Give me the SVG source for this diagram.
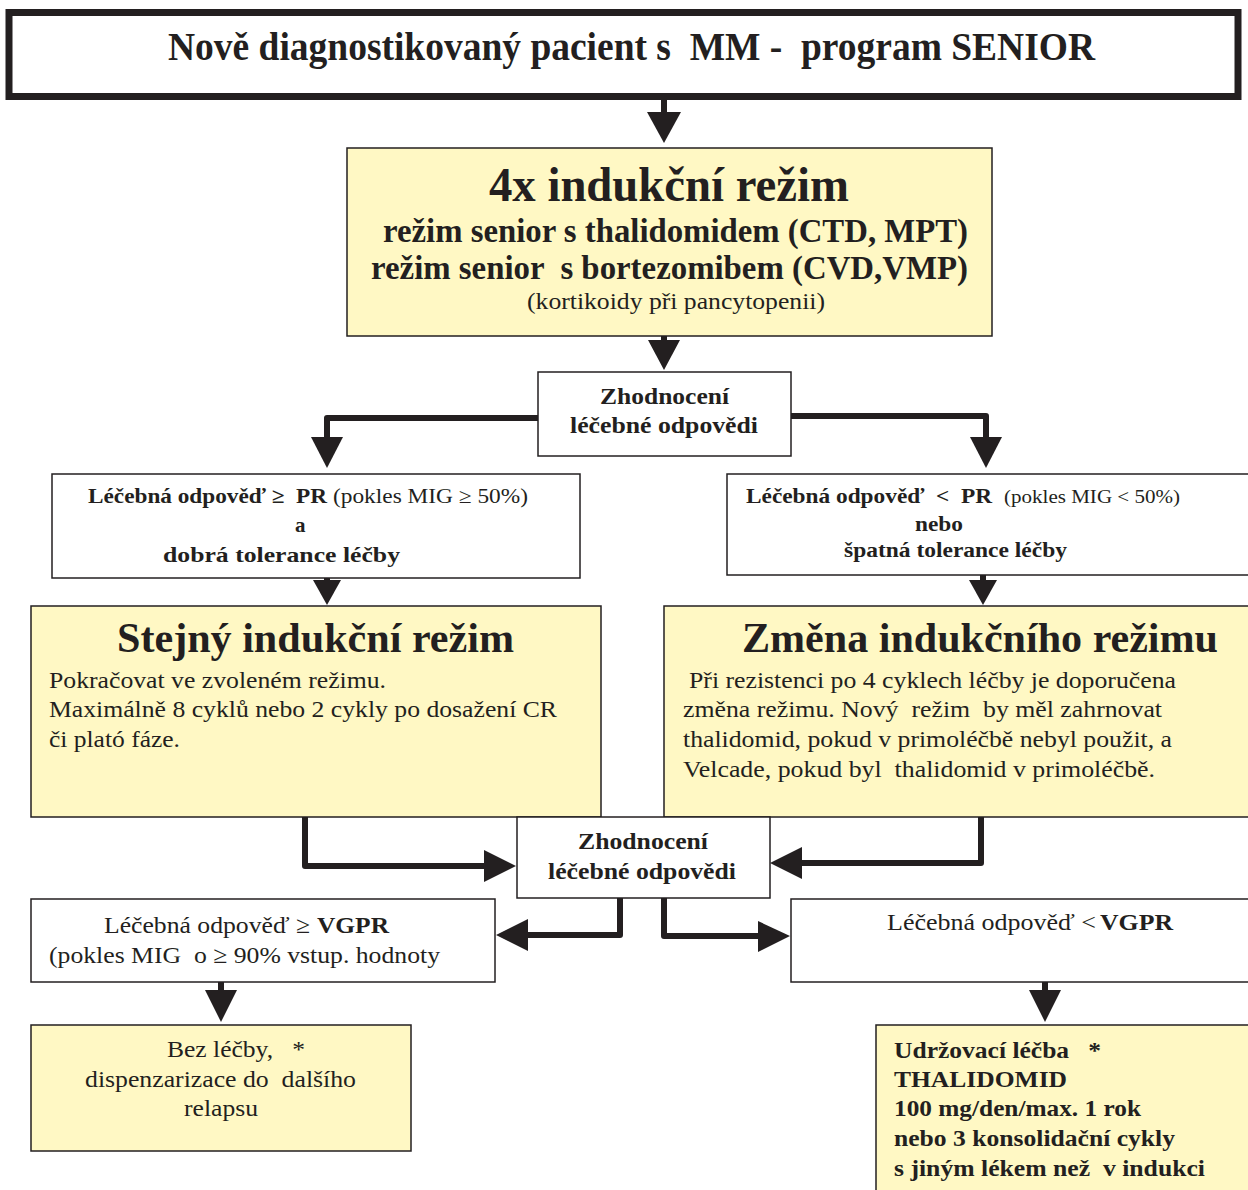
<svg xmlns="http://www.w3.org/2000/svg" width="1248" height="1190" viewBox="0 0 1248 1190">
<style>
text{font-family:"Liberation Serif","Times New Roman",serif;fill:#231f20;white-space:pre}
.b{font-weight:bold}
.box{fill:#ffffff;stroke:#231f20;stroke-width:1.5}
.ybox{fill:#fff8c4;stroke:#231f20;stroke-width:1.5}
.con{fill:none;stroke:#231f20;stroke-width:6;stroke-linejoin:round}
.head{fill:#231f20}
</style>
<rect width="1248" height="1190" fill="#ffffff"/>

<g id="connectors">
  <path class="con" d="M664 99 V118"/>
  <polygon class="head" points="647,112 681,112 664,143"/>
  <path class="con" d="M664 336 V346"/>
  <polygon class="head" points="648,340 680,340 664,370"/>
  <path class="con" d="M538 418 H327 V440"/>
  <polygon class="head" points="311,437 343,437 327,468"/>
  <path class="con" d="M791 416 H986 V440"/>
  <polygon class="head" points="970,437 1002,437 986,468"/>
  <path class="con" d="M327 578 V584"/>
  <polygon class="head" points="313,580 341,580 327,605"/>
  <path class="con" d="M983 575 V584"/>
  <polygon class="head" points="969,580 997,580 983,605"/>
  <path class="con" d="M305 817 V866 H490"/>
  <polygon class="head" points="484,850 484,882 516,866"/>
  <path class="con" d="M981 803 V863 H796"/>
  <polygon class="head" points="802,847 802,879 770,863"/>
  <path class="con" d="M620 898 V935 H522"/>
  <polygon class="head" points="528,919 528,951 496,935"/>
  <path class="con" d="M664 898 V936 H764"/>
  <polygon class="head" points="758,921 758,952 790,936"/>
  <path class="con" d="M221 982 V995"/>
  <polygon class="head" points="205,990 237,990 221,1022"/>
  <path class="con" d="M1045 982 V995"/>
  <polygon class="head" points="1029,990 1061,990 1045,1022"/>
</g>

<g id="start">
  <rect x="9" y="12.5" width="1229" height="84" fill="#ffffff" stroke="#231f20" stroke-width="7"/>
  <text class="b" x="168" y="60" font-size="40" textLength="927" lengthAdjust="spacingAndGlyphs">Nově diagnostikovaný pacient s  MM -  program SENIOR</text>
</g>

<g id="induction">
  <rect class="ybox" x="347" y="148" width="645" height="188"/>
  <text class="b" x="489" y="201" font-size="48" textLength="360" lengthAdjust="spacingAndGlyphs">4x indukční režim</text>
  <text class="b" x="383" y="242" font-size="33" textLength="585" lengthAdjust="spacingAndGlyphs">režim senior s thalidomidem (CTD, MPT)</text>
  <text class="b" x="371" y="279" font-size="33" textLength="597" lengthAdjust="spacingAndGlyphs">režim senior  s bortezomibem (CVD,VMP)</text>
  <text x="527" y="309" font-size="24" textLength="298" lengthAdjust="spacingAndGlyphs">(kortikoidy při pancytopenii)</text>
</g>

<g id="eval1">
  <rect class="box" x="538" y="372" width="253" height="84"/>
  <text class="b" x="600" y="404" font-size="24" textLength="129" lengthAdjust="spacingAndGlyphs">Zhodnocení</text>
  <text class="b" x="570" y="433" font-size="24" textLength="188" lengthAdjust="spacingAndGlyphs">léčebné odpovědi</text>
</g>

<g id="pr-good">
  <rect class="box" x="52" y="474" width="528" height="104"/>
  <text class="b" x="88" y="503" font-size="21" textLength="239" lengthAdjust="spacingAndGlyphs">Léčebná odpověď ≥  PR</text>
  <text x="333" y="503" font-size="21" textLength="195" lengthAdjust="spacingAndGlyphs">(pokles MIG ≥ 50%)</text>
  <text class="b" x="295" y="532" font-size="21">a</text>
  <text class="b" x="163" y="562" font-size="21" textLength="237" lengthAdjust="spacingAndGlyphs">dobrá tolerance léčby</text>
</g>

<g id="pr-bad">
  <rect class="box" x="727" y="474" width="530" height="101"/>
  <text class="b" x="746" y="503" font-size="21" textLength="246" lengthAdjust="spacingAndGlyphs">Léčebná odpověď  &lt;  PR</text>
  <text x="1004" y="503" font-size="19" textLength="176" lengthAdjust="spacingAndGlyphs">(pokles MIG &lt; 50%)</text>
  <text class="b" x="915" y="531" font-size="21" textLength="48" lengthAdjust="spacingAndGlyphs">nebo</text>
  <text class="b" x="844" y="557" font-size="21" textLength="223" lengthAdjust="spacingAndGlyphs">špatná tolerance léčby</text>
</g>

<g id="same">
  <rect class="ybox" x="31" y="606" width="570" height="211"/>
  <text class="b" x="117" y="652" font-size="43" textLength="397" lengthAdjust="spacingAndGlyphs">Stejný indukční režim</text>
  <text x="49" y="688" font-size="24" textLength="337" lengthAdjust="spacingAndGlyphs">Pokračovat ve zvoleném režimu.</text>
  <text x="49" y="717" font-size="24" textLength="508" lengthAdjust="spacingAndGlyphs">Maximálně 8 cyklů nebo 2 cykly po dosažení CR</text>
  <text x="49" y="747" font-size="24" textLength="131" lengthAdjust="spacingAndGlyphs">či plató fáze.</text>
</g>

<g id="change">
  <rect class="ybox" x="664" y="606" width="600" height="211"/>
  <text class="b" x="742" y="652" font-size="43" textLength="476" lengthAdjust="spacingAndGlyphs">Změna indukčního režimu</text>
  <text x="689" y="688" font-size="24" textLength="487" lengthAdjust="spacingAndGlyphs">Při rezistenci po 4 cyklech léčby je doporučena</text>
  <text x="683" y="717" font-size="24" textLength="479" lengthAdjust="spacingAndGlyphs">změna režimu. Nový  režim  by měl zahrnovat</text>
  <text x="683" y="747" font-size="24" textLength="489" lengthAdjust="spacingAndGlyphs">thalidomid, pokud v primoléčbě nebyl použit, a</text>
  <text x="683" y="777" font-size="24" textLength="472" lengthAdjust="spacingAndGlyphs">Velcade, pokud byl  thalidomid v primoléčbě.</text>
</g>

<g id="eval2">
  <rect class="box" x="517" y="817" width="253" height="81"/>
  <text class="b" x="578" y="849" font-size="24" textLength="130" lengthAdjust="spacingAndGlyphs">Zhodnocení</text>
  <text class="b" x="548" y="879" font-size="24" textLength="188" lengthAdjust="spacingAndGlyphs">léčebné odpovědi</text>
</g>

<g id="vgpr-good">
  <rect class="box" x="31" y="899" width="464" height="83"/>
  <text x="104" y="933" font-size="24" textLength="206" lengthAdjust="spacingAndGlyphs">Léčebná odpověď ≥</text>
  <text class="b" x="317" y="933" font-size="24" textLength="72" lengthAdjust="spacingAndGlyphs">VGPR</text>
  <text x="49" y="963" font-size="24" textLength="391" lengthAdjust="spacingAndGlyphs">(pokles MIG  o ≥ 90% vstup. hodnoty</text>
</g>

<g id="vgpr-bad">
  <rect class="box" x="791" y="899" width="470" height="83"/>
  <text x="887" y="930" font-size="24" textLength="209" lengthAdjust="spacingAndGlyphs">Léčebná odpověď &lt;</text>
  <text class="b" x="1100" y="930" font-size="24" textLength="73" lengthAdjust="spacingAndGlyphs">VGPR</text>
</g>

<g id="no-treatment">
  <rect class="ybox" x="31" y="1025" width="380" height="126"/>
  <text x="167" y="1057" font-size="24" textLength="138" lengthAdjust="spacingAndGlyphs">Bez léčby,   *</text>
  <text x="85" y="1087" font-size="24" textLength="271" lengthAdjust="spacingAndGlyphs">dispenzarizace do  dalšího</text>
  <text x="184" y="1116" font-size="24" textLength="74" lengthAdjust="spacingAndGlyphs">relapsu</text>
</g>

<g id="maintenance">
  <rect class="ybox" x="876" y="1025" width="390" height="180"/>
  <text class="b" x="894" y="1058" font-size="24" textLength="207" lengthAdjust="spacingAndGlyphs">Udržovací léčba   *</text>
  <text class="b" x="894" y="1087" font-size="24" textLength="173" lengthAdjust="spacingAndGlyphs">THALIDOMID</text>
  <text class="b" x="894" y="1116" font-size="24" textLength="247" lengthAdjust="spacingAndGlyphs">100 mg/den/max. 1 rok</text>
  <text class="b" x="894" y="1146" font-size="24" textLength="281" lengthAdjust="spacingAndGlyphs">nebo 3 konsolidační cykly</text>
  <text class="b" x="894" y="1176" font-size="24" textLength="311" lengthAdjust="spacingAndGlyphs">s jiným lékem než  v indukci</text>
</g>
</svg>
